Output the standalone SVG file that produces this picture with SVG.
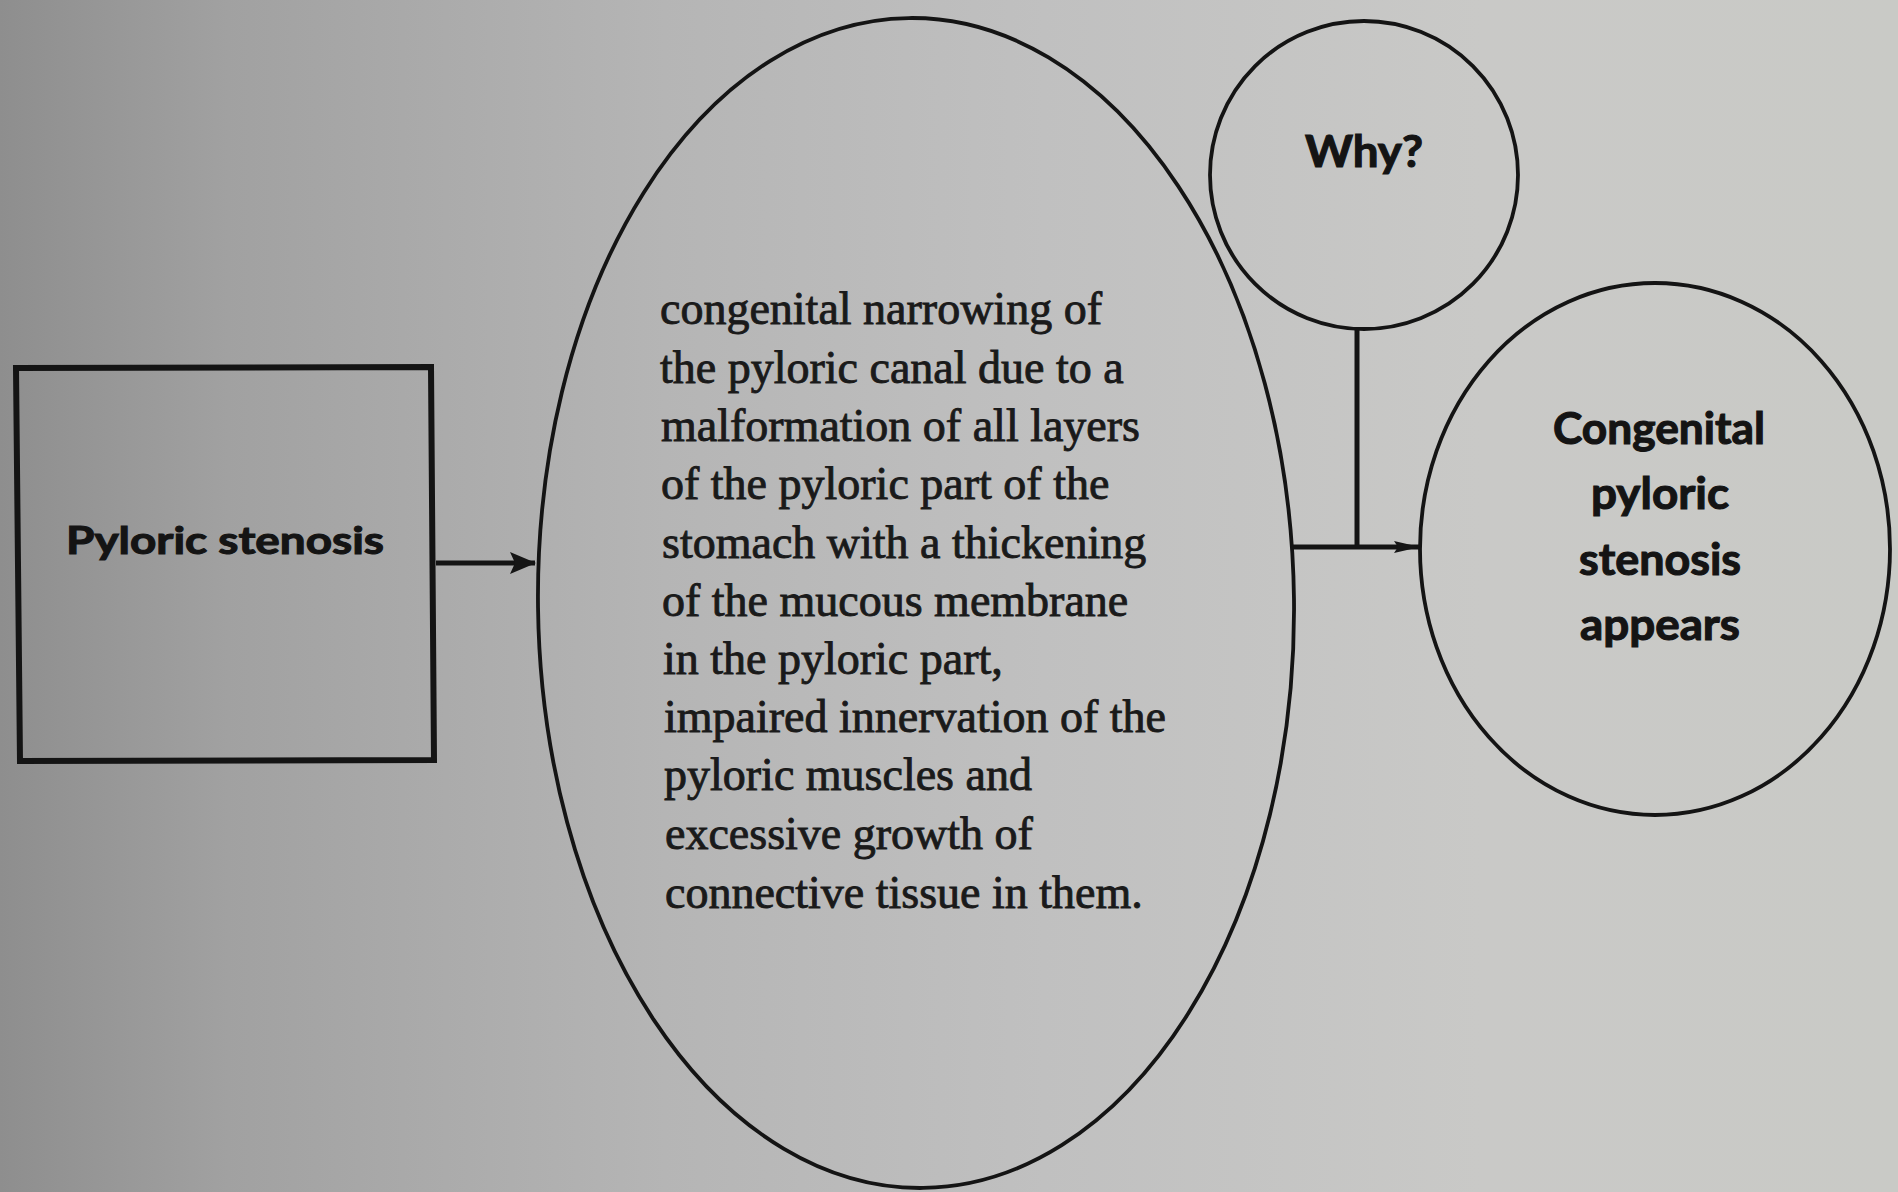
<svg xmlns="http://www.w3.org/2000/svg" width="1898" height="1192" viewBox="0 0 1898 1192">
  <defs>
    <linearGradient id="paper" x1="0" y1="0" x2="1" y2="0">
      <stop offset="0" stop-color="#8e8e8e"/>
      <stop offset="0.12" stop-color="#a1a1a1"/>
      <stop offset="0.35" stop-color="#b5b5b5"/>
      <stop offset="0.55" stop-color="#c0c0c0"/>
      <stop offset="0.78" stop-color="#c9c9c7"/>
      <stop offset="1" stop-color="#c9cac6"/>
    </linearGradient>
    <marker id="head-big" markerUnits="userSpaceOnUse" markerWidth="28" markerHeight="24" refX="25" refY="11.5" orient="auto">
      <path d="M0,0.5 L26,11.5 L0,22.5 L5,11.5 Z" fill="#161616"/>
    </marker>
    <marker id="head-small" markerUnits="userSpaceOnUse" markerWidth="28" markerHeight="16" refX="26" refY="7" orient="auto">
      <path d="M0,1 L26,7 L0,13 L4,7 Z" fill="#161616"/>
    </marker>
    <style>
      .shape { fill: none; stroke: #141414; stroke-width: 3.8; }
      .box { fill: none; stroke: #141414; stroke-width: 6; stroke-linejoin: miter; }
      .label { font-family: Lato, "Open Sans", "Liberation Sans", sans-serif; font-weight: bold; fill: #141414; stroke: #141414; stroke-width: 1.1; text-anchor: middle; }
      .body { font-family: "Liberation Serif", "Times New Roman", serif; font-size: 46px; fill: #1a1a1a; stroke: #1a1a1a; stroke-width: 0.9; }
      .link { fill: none; stroke: #141414; stroke-width: 5; }
    </style>
  </defs>

  <!-- paper -->
  <rect x="0" y="0" width="1898" height="1192" fill="url(#paper)"/>

  <!-- start box -->
  <g id="node-pyloric-stenosis">
    <polygon class="box" points="16,368 431,367 434,760 20,761"/>
    <text class="label" x="225" y="554" font-size="38" textLength="318" lengthAdjust="spacingAndGlyphs">Pyloric stenosis</text>
  </g>

  <!-- definition ellipse -->
  <g id="node-definition">
    <ellipse class="shape" cx="916" cy="603" rx="378" ry="585" transform="rotate(-0.7 916 603)"/>
    <text class="body" x="660" y="324">congenital narrowing of</text>
    <text class="body" x="660" y="383">the pyloric canal due to a</text>
    <text class="body" x="661" y="441">malformation of all layers</text>
    <text class="body" x="661" y="499">of the pyloric part of the</text>
    <text class="body" x="662" y="558">stomach with a thickening</text>
    <text class="body" x="662" y="616">of the mucous membrane</text>
    <text class="body" x="663" y="674">in the pyloric part,</text>
    <text class="body" x="664" y="732">impaired innervation of the</text>
    <text class="body" x="664" y="790">pyloric muscles and</text>
    <text class="body" x="665" y="849">excessive growth of</text>
    <text class="body" x="665" y="908">connective tissue in them.</text>
  </g>

  <!-- question circle -->
  <g id="node-why">
    <circle class="shape" cx="1364" cy="175" r="154"/>
    <text class="label" x="1364" y="167" font-size="43" textLength="118" lengthAdjust="spacingAndGlyphs">Why?</text>
  </g>

  <!-- outcome ellipse -->
  <g id="node-congenital">
    <ellipse class="shape" cx="1655" cy="549" rx="235" ry="266"/>
    <text class="label" x="1659" y="444" font-size="43" textLength="212" lengthAdjust="spacingAndGlyphs">Congenital</text>
    <text class="label" x="1660" y="509" font-size="43" textLength="138" lengthAdjust="spacingAndGlyphs">pyloric</text>
    <text class="label" x="1660" y="575" font-size="43" textLength="162" lengthAdjust="spacingAndGlyphs">stenosis</text>
    <text class="label" x="1660" y="640" font-size="43" textLength="160" lengthAdjust="spacingAndGlyphs">appears</text>
  </g>

  <!-- connectors -->
  <g id="connectors">
    <line class="link" x1="436" y1="563" x2="535" y2="563" marker-end="url(#head-big)"/>
    <line class="link" x1="1357" y1="329" x2="1357" y2="547"/>
    <line class="link" x1="1293" y1="547" x2="1420" y2="547" marker-end="url(#head-small)"/>
  </g>
</svg>
